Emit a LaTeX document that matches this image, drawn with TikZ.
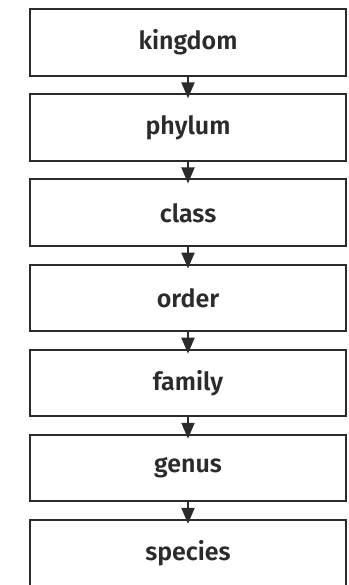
\documentclass[tikz,border=0pt]{standalone}
\usepackage{fontspec}
\setmainfont{Fira Sans}[BoldFont={Fira Sans SemiBold}]
\usetikzlibrary{arrows.meta}
\definecolor{ink}{HTML}{2B2B2B}
\begin{document}
\begin{tikzpicture}[x=1pt,y=1pt,
  rank/.style={draw=ink, line width=2pt, fill=white, rectangle,
    minimum width=316pt, minimum height=66.7pt, inner sep=0pt,
    font=\fontsize{25}{30}\selectfont\bfseries, text=ink},
  link/.style={draw=ink, line width=2pt,
    -{Triangle[length=16pt,width=13pt]}, shorten >=-5pt}]
\useasboundingbox (0,0) rectangle (348,-585);
% one box per taxonomic rank, stacked from top to bottom
\foreach \name [count=\i from 0] in {kingdom,phylum,class,order,family,genus,species}
  \node[rank] (n\i) at (188,-42.6-85.1*\i) {\name};
% arrows linking each rank to the next
\foreach \i [evaluate=\i as \j using int(\i+1)] in {0,...,5}
  \draw[link] (n\i.south) -- (n\j.north);
\end{tikzpicture}
\end{document}
